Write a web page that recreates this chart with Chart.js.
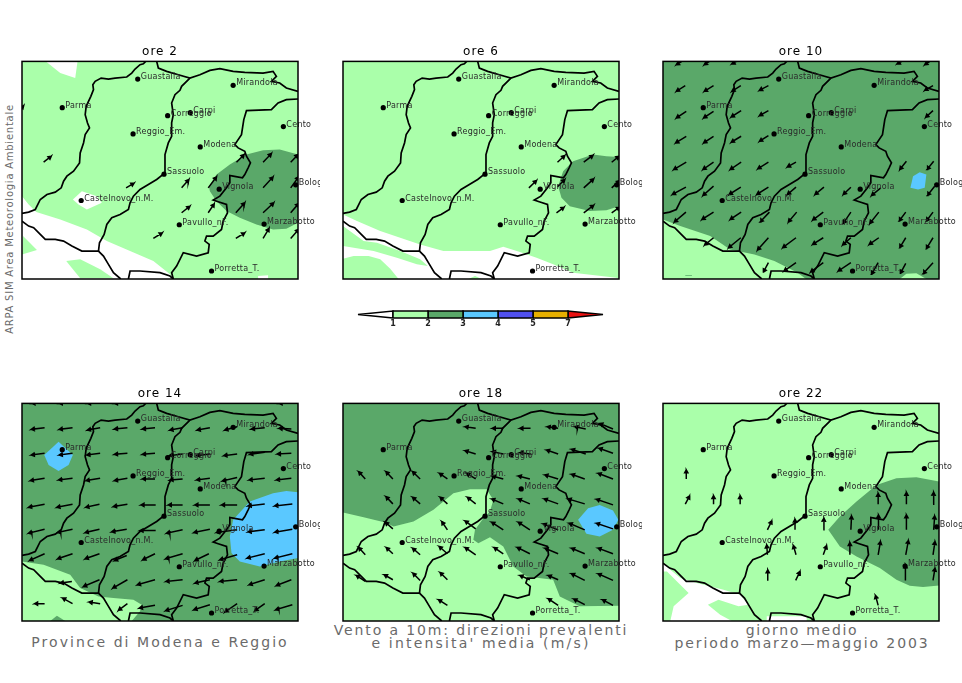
<!DOCTYPE html>
<html><head><meta charset="utf-8">
<script src="https://cdn.jsdelivr.net/npm/chart.js@4"></script>
<style>
html,body{margin:0;padding:0;background:#fff;width:962px;height:683px;overflow:hidden}
canvas{position:absolute}
.t{position:absolute;white-space:pre;font-family:"DejaVu Sans",sans-serif;color:#6a6a6a;line-height:1;transform:translate(-50%,-50%)}
</style></head><body>
<div class="t" style="left:160px;top:642px;font-size:14px;letter-spacing:2.04px">Province di Modena e Reggio</div>
<div class="t" style="left:481px;top:630px;font-size:14px;letter-spacing:1.88px">Vento a 10m: direzioni prevalenti</div>
<div class="t" style="left:481px;top:643px;font-size:14px;letter-spacing:2.17px">e intensita' media (m/s)</div>
<div class="t" style="left:802px;top:630px;font-size:14px;letter-spacing:1.7px">giorno medio</div>
<div class="t" style="left:802px;top:643px;font-size:14px;letter-spacing:1.88px">periodo marzo—maggio 2003</div>
<div class="t" style="left:10px;top:219px;font-size:10px;letter-spacing:.75px;transform:translate(-50%,-50%) rotate(-90deg)">ARPA SIM Area Meteorologia Ambientale</div>
<script>
const LIGHT='#aaffaa',DARK='#5aa869',BLUE='#5ac8ff',WHITE='#ffffff';
const hours=['ore 2','ore 6','ore 10','ore 14','ore 18','ore 22'];
const cityNames=['Guastalla','Parma','Mirandola','Carpi','Correggio','Reggio_Em.','Cento','Modena','Sassuolo','Vignola','Bologna','Castelnovo_n.M.','Pavullo_nF.','Marzabotto','Porretta_T.'];
const cityX=[413,186,700,571,503,399,851,601,492,658,888,243,538,793,635];
const cityY=[118,204,137,219,228,283,261,322,404,449,436,483,556,554,695];

const borderWest=[[437,65],[430,72],[420,75],[405,88],[395,100],[380,112],[345,115],[325,118],[303,115],[285,125],[278,135],[280,150],[272,170],[258,200],[255,225],[262,250],[268,265],[255,285],[250,310],[240,340],[238,370],[220,395],[200,410],[190,425],[183,445],[165,458],[140,465],[120,480],[105,510],[85,518],[65,522]];
const borderNorth=[[470,65],[475,85],[500,95],[535,105],[570,115],[600,105],[630,92],[660,87],[700,95],[735,98],[790,100],[820,95],[830,110],[815,125],[840,130],[860,145],[895,155]];
const borderMiddle=[[570,115],[545,140],[540,152],[525,165],[515,190],[520,225],[515,250],[515,290],[505,310],[495,345],[495,400],[470,420],[445,435],[420,450],[400,470],[390,490],[385,510],[360,525],[335,535],[320,555],[312,585],[298,610],[295,635]];
const borderSouth=[[65,545],[85,560],[100,565],[120,585],[135,600],[165,600],[190,605],[215,620],[245,635],[280,635],[295,635],[310,650],[325,675],[340,700],[362,719]];
const borderBottom=[[385,719],[390,695],[420,695],[480,700],[510,710],[520,719]];
const borderEast=[[895,178],[860,180],[835,190],[815,210],[740,213],[732,240],[725,285],[705,315],[715,325],[735,335],[740,350],[752,370],[745,385],[735,405],[728,415],[700,410],[690,408],[690,430],[680,445],[660,470],[640,482],[655,487],[680,495],[683,520],[670,545],[665,570],[640,590],[620,590],[615,605],[628,615],[625,640],[590,650],[550,640],[530,680],[515,700],[520,719]];

const fullPanel=[[65,65],[895,65],[895,719],[65,719]];
const shading2=[
 [LIGHT,fullPanel],
 [WHITE,[[137,65],[232,65],[225,115],[180,100]]],
 [WHITE,[[218,480],[245,455],[290,470],[305,490],[260,510],[235,495]]],
 [WHITE,[[65,470],[85,495],[108,518],[180,540],[260,570],[320,605],[390,635],[460,665],[510,705],[520,719],[65,719]]],
 [LIGHT,[[68,590],[110,632],[65,645]]],
 [LIGHT,[[198,665],[240,660],[300,690],[340,717],[240,717]]],
 [WHITE,[[775,710],[805,708],[805,719],[775,719]]],
 [DARK,[[627,440],[650,405],[690,375],[740,345],[790,332],[840,330],[895,345],[895,550],[860,568],[820,570],[770,555],[720,535],[680,515],[650,485],[630,455]]]
];
const shading6=[
 [LIGHT,fullPanel],
 [WHITE,[[65,525],[107,545],[177,575],[237,595],[297,615],[367,635],[457,635],[507,635],[547,622],[597,638],[647,655],[697,675],[757,700],[887,715],[895,719],[65,719]]],
 [LIGHT,[[65,560],[127,605],[167,610],[237,635],[297,660],[320,680],[287,675],[227,655],[157,635],[65,620]]],
 [LIGHT,[[65,658],[97,650],[142,650],[177,660],[207,688],[232,719],[65,719]]],
 [LIGHT,[[442,719],[462,710],[482,719]]],
 [DARK,[[712,440],[727,395],[757,365],[817,345],[857,350],[895,352],[895,500],[857,512],[807,515],[747,500],[722,475]]]
];
const shading10=[
 [DARK,fullPanel],
 [LIGHT,[[65,540],[117,560],[207,590],[267,630],[340,645],[400,665],[470,700],[495,719],[65,719]]],
 [DARK,[[132,707],[152,707],[152,709],[132,709]]],
 [LIGHT,[[777,719],[797,703],[827,702],[857,719]]],
 [BLUE,[[809,445],[817,410],[837,398],[857,405],[852,445],[832,450]]]
];
const shading14=[
 [DARK,fullPanel],
 [LIGHT,[[65,540],[130,550],[210,580],[240,620],[295,645],[340,650],[400,655],[425,670],[420,690],[395,719],[65,719]]],
 [DARK,[[150,719],[170,703],[195,719]]],
 [BLUE,[[132,220],[175,180],[218,220],[205,250],[175,268],[145,250]]],
 [BLUE,[[690,465],[700,415],[750,360],[820,335],[860,328],[895,332],[895,530],[840,540],[780,555],[720,540],[695,515]]]
];
const shading18=[
 [DARK,fullPanel],
 [LIGHT,[[65,393],[127,407],[192,423],[217,435],[277,420],[337,385],[397,335],[447,323],[497,323],[517,355],[507,390],[487,410],[462,445],[457,475],[472,485],[507,467],[547,495],[577,555],[617,585],[697,595],[717,645],[777,675],[895,673],[895,719],[65,719]]],
 [BLUE,[[772,415],[802,380],[837,370],[877,387],[893,415],[877,445],[837,465],[797,457]]]
];
const shading22=[
 [LIGHT,fullPanel],
 [WHITE,[[65,545],[87,565],[117,590],[167,605],[247,625],[297,640],[322,670],[292,675],[232,655],[200,670],[237,700],[272,719],[87,719],[97,675],[142,635],[117,610],[77,570],[65,570]]],
 [WHITE,[[377,705],[497,705],[497,719],[377,719]]],
 [DARK,[[562,445],[597,405],[647,360],[707,310],[767,290],[827,287],[895,300],[895,612],[847,617],[807,613],[767,595],[717,560],[647,525],[597,495]]]
];

// wind arrows: tail x, tail y, head x, head y (read per panel, panel-local reading origin)
const wind2=[[50,220,70,198],[130,368,153,350],[378,445,402,431],[545,445,567,420],[625,445,650,412],[710,368,733,345],[790,368,815,342],[873,368,895,345],[790,445,820,412],[873,445,897,412],[545,520,570,500],[625,520,643,493],[708,520,735,490],[790,520,822,490],[873,520,897,492],[460,597,487,580],[708,597,735,580],[790,597,808,567],[873,597,897,570]];
const wind6=[[683,368,705,348],[762,368,790,347],[846,368,868,350],[597,445,620,423],[683,442,705,420],[762,445,792,418],[846,445,870,423],[680,520,703,503],[762,520,792,497],[846,520,870,503]];
const wind10=[[100,62,78,75],[182,62,162,75],[265,62,245,72],[762,62,742,72],[845,62,825,75],
[105,138,78,155],[190,138,162,155],[272,138,245,155],[355,138,328,152],[850,138,825,152],
[108,215,78,235],[190,215,160,235],[273,213,243,232],[355,213,328,228],[850,213,828,233],
[108,290,76,310],[190,290,160,310],[273,290,243,308],[355,288,328,305],
[108,368,70,390],[190,368,158,390],[273,368,240,390],[355,368,323,388],[438,368,412,382],[770,365,750,390],[852,365,832,390],
[107,443,66,465],[190,440,158,468],[272,443,237,465],[355,443,320,465],[438,443,412,465],[522,443,495,465],[603,443,580,465],[693,445,665,468],[855,440,833,468],
[107,518,72,548],[190,518,155,540],[273,518,240,540],[358,518,330,548],[440,518,415,548],[520,518,488,542],[603,518,580,552],[687,518,660,552],[768,518,748,545],[850,518,830,545],
[190,595,163,617],[272,595,235,625],[355,595,322,632],[438,595,398,625],[520,595,488,615],[603,595,578,617],[687,595,658,615],[768,595,750,625],[850,595,830,628],
[355,670,340,698],[438,670,402,695],[520,670,482,698],[603,670,565,695],[685,670,665,705],[768,672,752,702],[850,670,820,703]];
const wind14=[[133,68,95,70],[217,68,177,70],[300,68,262,70],[382,68,343,70],[875,68,838,70],
[133,143,93,148],[217,143,177,148],[300,143,262,150],[382,143,343,147],[465,143,427,147],[548,143,510,150],[630,143,592,150],[712,140,675,150],[795,143,755,147],[875,147,838,145],
[133,220,93,225],[217,220,177,225],[300,220,260,225],[382,220,343,223],[465,220,427,223],[548,222,508,227],[630,222,590,227],[712,222,672,227],[795,217,750,223],[875,220,833,222],
[133,295,90,302],[217,295,175,300],[300,295,258,302],[382,295,343,302],[465,297,427,297],[548,297,510,300],[630,295,590,300],[712,293,668,303],[795,295,748,300],[875,295,830,300],
[133,373,85,382],[217,373,170,382],[298,373,257,382],[382,373,340,380],[467,375,423,375],[548,375,505,375],[630,375,585,375],[712,375,665,375],[795,372,745,378],[878,372,825,378],
[133,448,85,460],[217,448,172,458],[298,448,255,458],[380,448,335,456],[467,452,420,452],[548,450,500,460],[630,448,582,458],[712,450,650,458],[795,450,745,456],[878,448,825,457],
[133,522,88,542],[217,522,172,537],[298,522,255,537],[380,527,343,542],[465,522,428,540],[548,522,497,537],[627,522,585,542],[712,525,660,540],[795,522,742,535],[878,522,825,535],
[215,605,180,610],[298,600,250,620],[382,600,338,625],[465,600,412,615],[548,600,498,605],[630,600,585,610],[712,600,660,605],[795,600,748,615],[875,600,830,617],
[133,672,103,672],[217,672,187,655],[300,672,267,667],[382,672,355,692],[465,677,418,685],[548,677,497,693],[630,675,582,690],[712,672,675,697],[795,672,765,693],[878,675,828,690]];
const wind18=[[437,145,405,140],[520,145,487,145],[602,145,570,145],[685,145,652,140],[768,147,735,140],[850,147,810,130],
[437,222,405,212],[520,222,487,215],[602,222,570,218],[685,222,650,210],[768,222,725,208],[850,220,808,205],
[105,297,85,275],[188,297,167,275],[270,297,247,275],[352,297,328,280],[437,297,410,280],[520,297,487,288],[600,297,565,288],[685,297,645,285],[765,297,725,283],[850,297,805,280],
[188,372,167,350],[270,372,247,352],[352,372,330,352],[437,372,412,352],[520,372,485,357],[600,372,565,357],[685,372,643,357],[765,372,715,357],[850,375,800,358],
[188,447,165,427],[352,450,335,425],[437,447,405,423],[520,450,485,427],[600,450,565,427],[685,450,640,432],[765,450,718,430],[850,447,800,430],
[105,525,85,503],[188,522,168,503],[270,525,247,505],[352,522,327,500],[437,525,405,503],[520,522,492,503],[600,522,562,503],[685,522,645,505],[765,522,725,505],[850,522,805,505],
[105,605,78,587],[188,600,162,585],[270,602,248,580],[352,600,330,578],[600,600,570,587],[685,600,655,587],[765,602,725,582],[850,602,805,582],
[352,677,325,660],[685,677,655,657],[765,675,732,658],[850,677,818,660]];
const wind22=[[108,297,108,270],[105,373,118,348],[190,373,190,347],[270,373,270,347],
[685,373,685,340],[770,373,770,337],[850,373,852,337],
[352,450,365,423],[435,450,435,418],[520,450,522,415],[603,450,605,408],[686,450,686,405],[770,450,770,405],[852,450,855,408],
[352,525,350,495],[438,525,430,497],[520,525,530,497],[600,525,600,488],[685,525,692,485],[768,525,776,482],[850,525,856,485],
[353,603,353,570],[437,602,450,575],[767,602,767,555],[850,602,856,565],[685,677,677,647]];

const panelShading=[shading2,shading6,shading10,shading14,shading18,shading22];
const panelWind=[wind2,wind6,wind10,wind14,wind18,wind22];
const windShiftX=[0,27,27,0,27,27];
const windShiftY=[0,0,0,-5,-5,-5];
const canvasLeft=[20,341,661,20,341,661];
const canvasTop=[39,39,39,381,381,381];
const canvasWidth=[300,301,301,300,301,301];
const paddingRight=[22,23,23,22,23,23];

const colorbarLabels=['1','2','3','4','5','7'];
const colorbarColors=['#aaffaa','#5aa869','#5ac8ff','#5050f0','#e6af00'];
const colorbarUnder='#ffffff', colorbarOver='#e81010';

const pts=a=>a.map(p=>({x:p[0],y:p[1]}));
function arrowPoints(list,sx,sy){
  const out=[];
  for(const a of list){
    const x0=a[0]+sx,y0=a[1]+sy,x1=a[2]+sx,y1=a[3]+sy;
    const ang=Math.atan2(y1-y0,x1-x0),L=10,w=0.5;
    out.push({x:x0,y:y0},{x:x1,y:y1},
      {x:x1-L*Math.cos(ang-w),y:y1-L*Math.sin(ang-w)},
      {x:x1-L*Math.cos(ang+w),y:y1-L*Math.sin(ang+w)},{x:x1,y:y1},
      {x:NaN,y:NaN});
  }
  return out;
}
const mapPlugin={id:'mapDecor',
  beforeDraw(c){c.ctx.letterSpacing='1px';},
  afterDraw(c){
    const ctx=c.ctx,xs=c.scales.x,ys=c.scales.y,a=c.chartArea;
    ctx.save();
    ctx.font='8px "DejaVu Sans"';ctx.letterSpacing='0.25px';
    ctx.fillStyle='#2a2a2a';ctx.textBaseline='middle';ctx.textAlign='left';
    cityNames.forEach((n,i)=>{
      ctx.fillText(n,xs.getPixelForValue(cityX[i])+3,ys.getPixelForValue(cityY[i])-2);
    });
    ctx.strokeStyle='#000';ctx.lineWidth=1.5;
    ctx.strokeRect(a.left,a.top,a.right-a.left,a.bottom-a.top);
    ctx.restore();
  }};

hours.forEach((h,i)=>{
  const cv=document.createElement('canvas');
  cv.width=canvasWidth[i];cv.height=243;
  cv.style.left=canvasLeft[i]+'px';cv.style.top=canvasTop[i]+'px';
  cv.style.width=canvasWidth[i]+'px';cv.style.height='243px';
  document.body.appendChild(cv);
  const ds=[];
  panelShading[i].forEach((s,k)=>ds.push({data:pts(s[1]),showLine:true,fill:'shape',backgroundColor:s[0],borderWidth:0,borderColor:s[0],pointRadius:0,order:100-k}));
  [borderWest,borderNorth,borderMiddle,borderSouth,borderBottom,borderEast].forEach(b=>ds.push({data:pts(b),showLine:true,fill:false,borderColor:'#000',borderWidth:1.7,pointRadius:0,order:20}));
  ds.push({data:arrowPoints(panelWind[i],windShiftX[i],windShiftY[i]),showLine:true,fill:false,spanGaps:false,borderColor:'#000',borderWidth:1.5,pointRadius:0,order:10});
  ds.push({data:cityX.map((x,k)=>({x,y:cityY[k]})),showLine:false,pointRadius:2.6,pointBackgroundColor:'#000',pointBorderWidth:0,clip:false,order:5});
  new Chart(cv,{type:'scatter',data:{datasets:ds},plugins:[mapPlugin],options:{
    responsive:false,animation:false,devicePixelRatio:1,events:[],
    layout:{autoPadding:false,padding:{left:2,right:paddingRight[i],top:0,bottom:3}},
    plugins:{legend:{display:false},tooltip:{enabled:false},
      title:{display:true,text:h,color:'#000',font:{family:'"DejaVu Sans"',size:12,weight:'normal',lineHeight:1.2},padding:{top:6,bottom:2}}},
    scales:{
      x:{type:'linear',min:65,max:895,display:false},
      y:{type:'linear',min:65,max:719,reverse:true,display:false}
    }
  }});
});

// colour bar
const cb=document.createElement('canvas');
cb.width=260;cb.height=40;cb.style.left='350px';cb.style.top='300px';cb.style.width='260px';cb.style.height='40px';
document.body.appendChild(cb);
const cbDs=colorbarColors.map((c,i)=>({data:pts([[i,-1],[i+1,-1],[i+1,1],[i,1],[i,-1]]),showLine:true,fill:'shape',backgroundColor:c,borderColor:'#000',borderWidth:1.5,pointRadius:0,clip:false}));
cbDs.push({data:pts([[0,-1],[-1,0],[0,1],[0,-1]]),showLine:true,fill:'shape',backgroundColor:colorbarUnder,borderColor:'#000',borderWidth:1.5,pointRadius:0,clip:false});
cbDs.push({data:pts([[5,-1],[6,0],[5,1],[5,-1]]),showLine:true,fill:'shape',backgroundColor:colorbarOver,borderColor:'#000',borderWidth:1.5,pointRadius:0,clip:false});
new Chart(cb,{type:'scatter',data:{datasets:cbDs},options:{
  responsive:false,animation:false,devicePixelRatio:1,events:[],
  layout:{autoPadding:false,padding:{left:8,right:7,top:11,bottom:0}},
  plugins:{legend:{display:false},tooltip:{enabled:false}},
  scales:{
    y:{type:'linear',min:-1,max:1,display:false},
    x:{type:'linear',min:-1,max:6,afterFit(s){s.height=22;},grid:{display:false,drawTicks:false},border:{display:false},
      ticks:{stepSize:1,autoSkip:false,maxRotation:0,padding:1,color:'#222',font:{family:'"DejaVu Sans"',size:8,weight:'bold'},callback:v=>colorbarLabels[v]||''}}
  }
}});
</script>
</body></html>
